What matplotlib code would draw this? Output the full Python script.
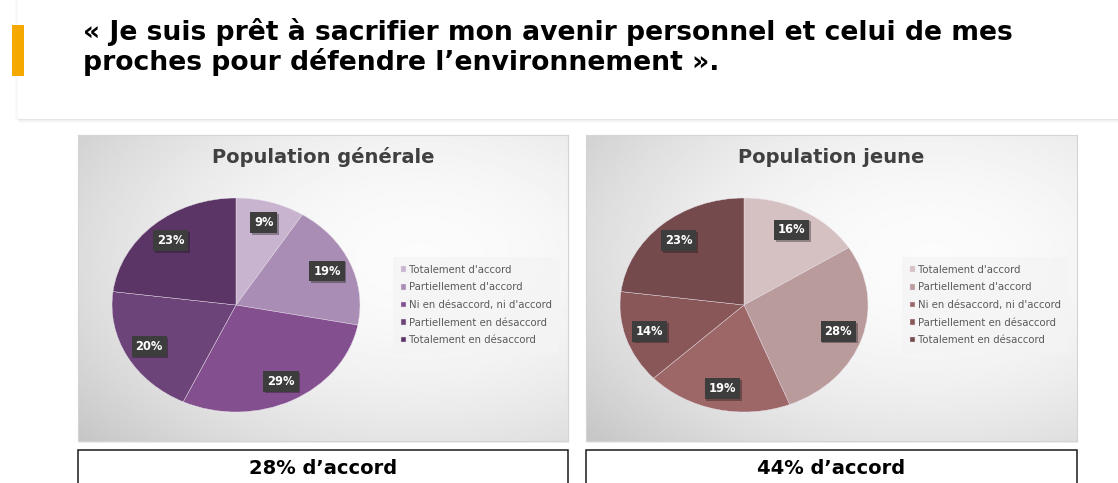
import numpy as np
import matplotlib
matplotlib.use("Agg")
import matplotlib.pyplot as plt
import matplotlib.patheffects as pe
from matplotlib.patches import Rectangle

W, H = 1118, 483

# ── Data ──────────────────────────────────────────────────────────────────────
TITLE_LINES = [
    "« Je suis prêt à sacrifier mon avenir personnel et celui de mes",
    "proches pour défendre l\u2019environnement ».",
]
CATEGORIES = [
    "Totalement d'accord",
    "Partiellement d'accord",
    "Ni en désaccord, ni d'accord",
    "Partiellement en désaccord",
    "Totalement en désaccord",
]
GENERAL_TITLE  = "Population générale"
GENERAL_VALUES = [9, 19, 29, 20, 23]
YOUNG_TITLE    = "Population jeune"
YOUNG_VALUES   = [16, 28, 19, 14, 23]
SUMMARY        = ["28% d\u2019accord", "44% d\u2019accord"]

GENERAL_COLORS = ["#c8b4cf", "#a98db4", "#834f8f", "#6d4479", "#5b3565"]
YOUNG_COLORS   = ["#d5c1c1", "#ba9b9b", "#9d6667", "#8a5758", "#744a4c"]

FONT = "DejaVu Sans"


def px(x, y_top, w, h):
    """pixel box (top-left origin) -> figure fraction [l, b, w, h]"""
    return [x / W, 1 - (y_top + h) / H, w / W, h / H]


def fit_width(txt, target_px):
    r = fig.canvas.get_renderer()
    w = txt.get_window_extent(renderer=r).width
    txt.set_fontsize(txt.get_fontsize() * target_px / w)


fig = plt.figure(figsize=(W / 100, H / 100), dpi=100)
fig.patch.set_facecolor("white")

# ── Header ────────────────────────────────────────────────────────────────────
bg = fig.add_axes([0, 0, 1, 1])
bg.set_xlim(0, W)
bg.set_ylim(H, 0)
bg.axis("off")
for i, a in enumerate([0.10, 0.06, 0.035, 0.015]):
    bg.add_patch(Rectangle((18, 119 + i), W, 1, color="black", alpha=a, lw=0))
    bg.add_patch(Rectangle((17 - i, 0), 1, 120, color="black", alpha=a * 0.4, lw=0))
bg.add_patch(Rectangle((18, 0), W, 119, color="white", lw=0))
bg.add_patch(Rectangle((12, 25), 12, 51, color="#f5a800", lw=0))

head = []
for k, line in enumerate(TITLE_LINES):
    head.append(bg.text(83, 32 + k * 30, line, fontsize=16, fontweight="bold",
                        family=FONT, color="black", va="center", ha="left"))
fit_width(head[0], 932)
head[1].set_fontsize(head[0].get_fontsize())

# ── Panels ────────────────────────────────────────────────────────────────────
PANELS = [
    dict(box=(78, 135, 490, 306), pie=(112, 198, 248, 214),
         legend=(393, 305), title=GENERAL_TITLE, values=GENERAL_VALUES,
         colors=GENERAL_COLORS, summary=SUMMARY[0]),
    dict(box=(586, 135, 491, 306), pie=(620, 198, 248, 214),
         legend=(902, 305), title=YOUNG_TITLE, values=YOUNG_VALUES,
         colors=YOUNG_COLORS, summary=SUMMARY[1]),
]

yy, xx = np.mgrid[0:1:200j, 0:1:300j]
d2 = (xx - 0.70) ** 2 + (yy - 0.40) ** 2
grad = np.clip(0.985 - 0.25 * d2, 0, 1)

title_ref = None
for p in PANELS:
    x, y, w, h = p["box"]
    bg.add_patch(Rectangle((x + 1, y + 2), w, h, color="black", alpha=0.07, lw=0))
    pax = fig.add_axes(px(x, y, w, h))
    pax.imshow(grad, cmap="gray", vmin=0, vmax=1, aspect="auto",
               extent=[0, 1, 1, 0], interpolation="bilinear")
    pax.set_xlim(0, 1)
    pax.set_ylim(1, 0)
    pax.set_xticks([])
    pax.set_yticks([])
    for s in pax.spines.values():
        s.set_color("#d4d4d4")
        s.set_linewidth(0.8)
    t = pax.text(0.5, 0.072, p["title"], fontsize=12, fontweight="bold",
                 family=FONT, color="#404040", ha="center", va="center")
    if title_ref is None:
        fit_width(t, 222)
        title_ref = t.get_fontsize()
    else:
        t.set_fontsize(title_ref)

    ax = fig.add_axes(px(*p["pie"]))
    wedges, _, autotexts = ax.pie(
        p["values"], colors=p["colors"], startangle=90, counterclock=False,
        autopct="%d%%", pctdistance=0.8, radius=1.0,
        wedgeprops=dict(linewidth=0.3, edgecolor="#e8e0ea"),
        textprops=dict(color="white", fontsize=8.3, fontweight="bold", family=FONT),
    )
    for tx in autotexts:
        tx.set_bbox(dict(boxstyle="square,pad=0.33", facecolor="#3d3d3d",
                         edgecolor="none",
                         path_effects=[pe.SimplePatchShadow(offset=(1.2, -1.2),
                                                            alpha=0.35),
                                       pe.Normal()]))
    ax.set_aspect("auto")
    ax.set_xlim(-1, 1)
    ax.set_ylim(-1, 1)
    ax.axis("off")

    lx, ly = p["legend"]
    leg = fig.legend(wedges, CATEGORIES, loc="center left",
                     bbox_to_anchor=(lx / W, 1 - ly / H),
                     prop=dict(family=FONT, size=7.3), frameon=True,
                     handlelength=0.5, handleheight=0.5, handletextpad=0.3,
                     labelspacing=0.75, borderpad=0.75, borderaxespad=0,
                     labelcolor="#5a5a5a")
    fr = leg.get_frame()
    fr.set_facecolor("#f4f4f4")
    fr.set_alpha(0.75)
    fr.set_edgecolor("none")
    fr.set_boxstyle("square", pad=0)

    bg.add_patch(Rectangle((x, 450), w, 40, facecolor="white",
                           edgecolor="#1a1a1a", lw=1.1))
    s = bg.text(x + w / 2, 468, p["summary"], fontsize=12, fontweight="bold",
                family=FONT, color="black", ha="center", va="center")
    fit_width(s, 148)

fig.savefig("out.png", dpi=100)
